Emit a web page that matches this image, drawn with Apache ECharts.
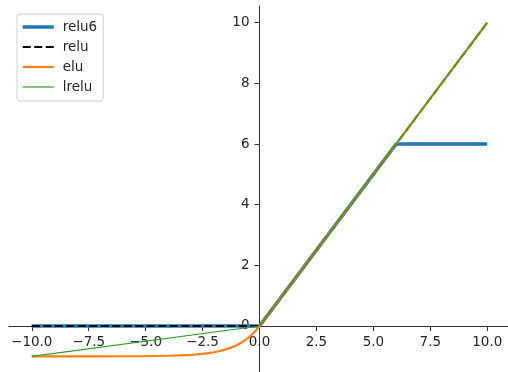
<!DOCTYPE html>
<html>
<head>
<meta charset="utf-8">
<script src="https://cdn.jsdelivr.net/npm/echarts@6/dist/echarts.min.js"></script>
<style>
  html, body { margin: 0; padding: 0; background: #fff; }
  #chart { width: 508px; height: 372px; }
</style>
</head>
<body>
<div id="chart"></div>
<script>
// Activation functions sampled on [-10, 10]
const relu6Points = [[-10, 0], [0, 0], [6, 6], [10, 6]];
const reluPoints = [[-10, 0], [0, 0], [10, 10]];
const eluPoints = [
  [-10, -1.0], [-9, -0.9999], [-8, -0.9997], [-7, -0.9991], [-6, -0.9975],
  [-5, -0.9933], [-4.5, -0.9889], [-4, -0.9817], [-3.5, -0.9698], [-3, -0.9502],
  [-2.75, -0.9361], [-2.5, -0.9179], [-2.25, -0.8946], [-2, -0.8647],
  [-1.75, -0.8262], [-1.5, -0.7769], [-1.25, -0.7135], [-1, -0.6321],
  [-0.875, -0.5831], [-0.75, -0.5276], [-0.625, -0.4647], [-0.5, -0.3935],
  [-0.375, -0.3127], [-0.25, -0.2212], [-0.125, -0.1175], [0, 0], [10, 10]
];
const lreluPoints = [[-10, -1], [0, 0], [10, 10]];

const xTicks = [-10, -7.5, -5, -2.5, 0, 2.5, 5, 7.5, 10];
const yTicks = [0, 2, 4, 6, 8, 10];
const xRange = [-11, 11];
const yRange = [-1.55, 10.55];

const fmt = (v, digits) => {
  const s = Math.abs(v).toFixed(digits);
  return v < 0 ? '\u2212' + s : s;
};

const font = 'DejaVu Sans';
const axisColor = '#333';
const labelColor = '#262626';

// Plot box in pixels
const gridLeft = 9, gridTop = 6, gridW = 501, gridH = 367;
// Spines cross at the origin: shift each axis from its grid edge to zero
const yAxisShift = -gridW * (0 - xRange[0]) / (xRange[1] - xRange[0]);
const xAxisShift = -gridH * (0 - yRange[0]) / (yRange[1] - yRange[0]);

const chart = echarts.init(document.getElementById('chart'), null, { renderer: 'canvas' });
chart.setOption({
  animation: false,
  backgroundColor: '#fff',
  grid: { left: gridLeft, top: gridTop, width: gridW, height: gridH, containLabel: false, outerBoundsMode: 'none' },
  legend: {
    orient: 'vertical',
    left: 17,
    top: 14,
    itemWidth: 31,
    itemHeight: 14,
    itemGap: 6,
    padding: [6, 6, 7, 4],
    borderColor: '#d0d0d0',
    borderWidth: 1,
    borderRadius: 3,
    backgroundColor: '#fff',
    itemStyle: { opacity: 0 },
    textStyle: { fontFamily: font, fontSize: 13.5, color: labelColor, padding: [0, 0, 0, 4] },
    data: [
      { name: 'relu6', lineStyle: { width: 3.5 } },
      { name: 'relu', lineStyle: { width: 2 } },
      { name: 'elu', lineStyle: { width: 2.2 } },
      { name: 'lrelu', lineStyle: { width: 1.2 } }
    ]
  },
  xAxis: {
    type: 'value',
    min: xRange[0],
    max: xRange[1],
    position: 'bottom',
    offset: xAxisShift,
    splitLine: { show: false },
    axisLine: { show: true, onZero: false, lineStyle: { color: axisColor, width: 1 } },
    axisTick: { show: true, length: 5, customValues: xTicks, lineStyle: { color: axisColor } },
    axisLabel: {
      customValues: xTicks,
      margin: 10,
      fontFamily: font,
      fontSize: 13.5,
      color: labelColor,
      formatter: v => fmt(v, 1)
    }
  },
  yAxis: {
    type: 'value',
    min: yRange[0],
    max: yRange[1],
    position: 'left',
    offset: yAxisShift,
    splitLine: { show: false },
    axisLine: { show: true, onZero: false, lineStyle: { color: axisColor, width: 1 } },
    axisTick: { show: true, length: 5, customValues: yTicks, lineStyle: { color: axisColor } },
    axisLabel: {
      customValues: yTicks,
      margin: 10,
      fontFamily: font,
      fontSize: 13.5,
      color: labelColor,
      formatter: v => fmt(v, 0)
    }
  },
  series: [
    {
      name: 'relu6', type: 'line', data: relu6Points, symbol: 'none',
      lineStyle: { color: '#1f77b4', width: 3.5 }, itemStyle: { color: '#1f77b4' }
    },
    {
      name: 'relu', type: 'line', data: reluPoints, symbol: 'none',
      lineStyle: { color: '#000', width: 2, type: [8, 3.5] }, itemStyle: { color: '#000' }
    },
    {
      name: 'elu', type: 'line', data: eluPoints, symbol: 'none',
      lineStyle: { color: '#ff7f0e', width: 2.2 }, itemStyle: { color: '#ff7f0e' }
    },
    {
      name: 'lrelu', type: 'line', data: lreluPoints, symbol: 'none',
      lineStyle: { color: '#2ca02c', width: 1.2 }, itemStyle: { color: '#2ca02c' }
    }
  ]
});
</script>
</body>
</html>
